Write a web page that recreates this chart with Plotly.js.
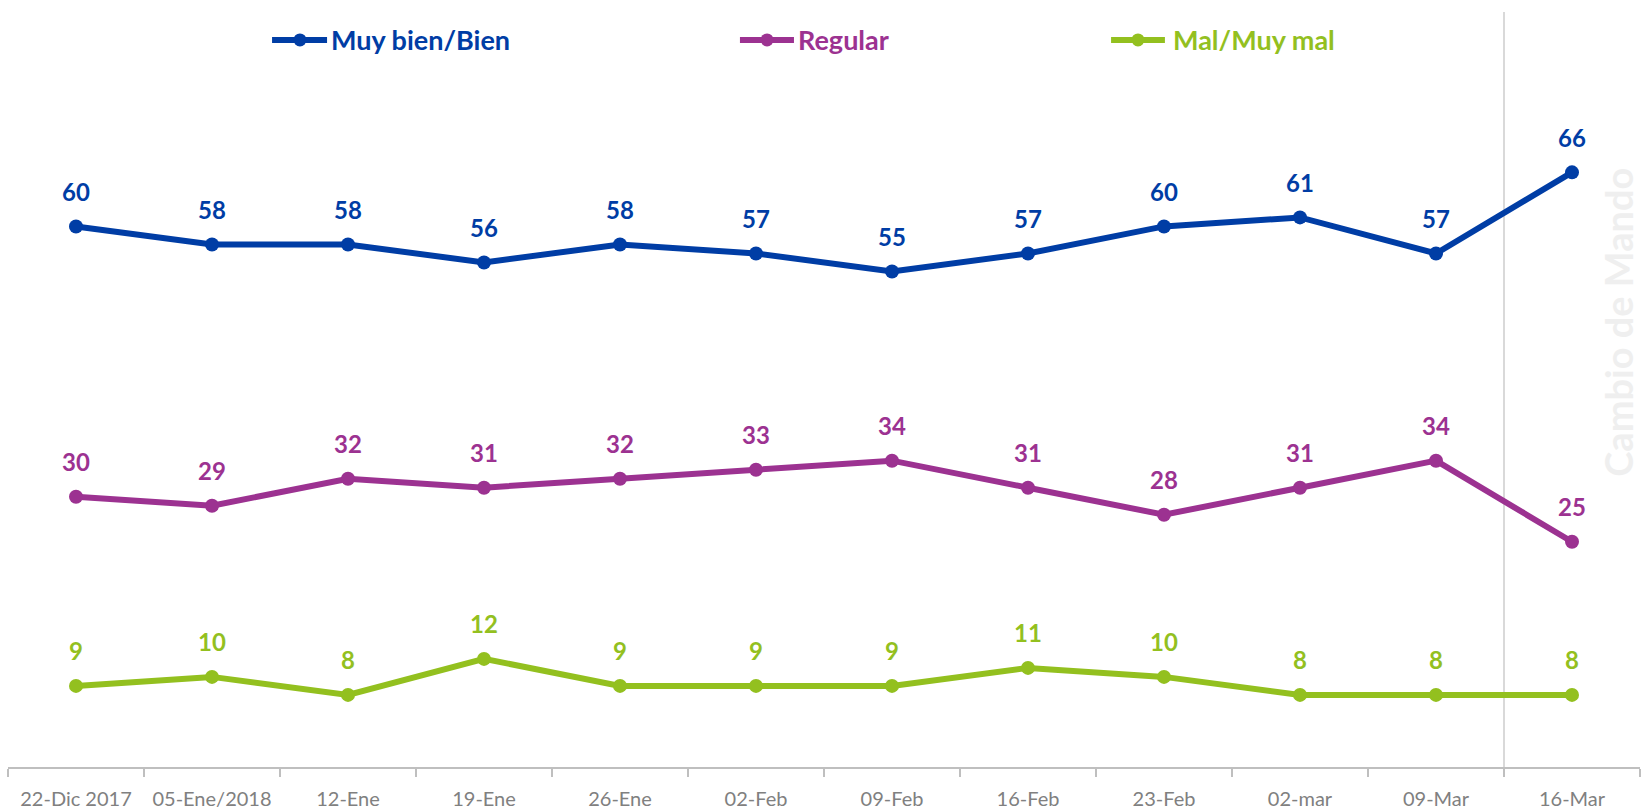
<!DOCTYPE html>
<html>
<head>
<meta charset="utf-8">
<script src="https://cdn.plot.ly/plotly-3.0.1.min.js"></script>
<style>html,body{margin:0;padding:0;background:#fff;}#chart{width:1643px;height:811px;}</style>
</head>
<body>
<div id="chart"></div>
<script>
const categories = ["22-Dic 2017","05-Ene/2018","12-Ene","19-Ene","26-Ene","02-Feb","09-Feb","16-Feb","23-Feb","02-mar","09-Mar","16-Mar"];
const seriesNames = ["Muy bien/Bien","Regular","Mal/Muy mal"];
const muyBien = [60,58,58,56,58,57,55,57,60,61,57,66];
const regular = [30,29,32,31,32,33,34,31,28,31,34,25];
const mal = [9,10,8,12,9,9,9,11,10,8,8,8];
const colors = ["#003DA5","#9C3291","#93C01F"];
const sideNote = "Cambio de Mando";

const FONT = "Lato, 'Open Sans', sans-serif";
const allSeries = [muyBien, regular, mal];

const traces = allSeries.map((vals,k)=>({
  type:"scatter", mode:"lines+markers", name:seriesNames[k],
  x:categories, y:vals,
  line:{color:colors[k], width:6},
  marker:{color:colors[k], size:14},
  showlegend:false, hoverinfo:"skip", cliponaxis:false
}));

const annotations = [];
allSeries.forEach((vals,k)=>{
  vals.forEach((v,i)=>{
    annotations.push({x:categories[i], y:v, xref:"x", yref:"y", text:"<b>"+v+"</b>", showarrow:false,
      yshift:35, font:{family:FONT, size:24, color:colors[k]}});
  });
});
annotations.push({xref:"paper", yref:"paper", x:0.9868, y:0.589, xanchor:"center", yanchor:"middle",
  text:"<b>"+sideNote+"</b>", textangle:-90, showarrow:false, font:{family:FONT, size:38, color:"#efefef"}});

// custom legend
const legY = 0.963;
const legPos = [[0.1618,0.1955,0.1789,0.1967],[0.4485,0.4816,0.4651,0.4829],[0.6759,0.7089,0.6924,0.7126]];
const shapes = [
  {type:"line", xref:"x", yref:"paper", x0:10.5, x1:10.5, y0:0, y1:1, line:{color:"#d9d9d9", width:2}, layer:"below"}
];
legPos.forEach((p,k)=>{
  shapes.push({type:"line", xref:"paper", yref:"paper", x0:p[0], x1:p[1], y0:legY, y1:legY, line:{color:colors[k], width:6}});
  shapes.push({type:"circle", xref:"paper", yref:"paper", xsizemode:"pixel", ysizemode:"pixel",
    xanchor:p[2], yanchor:legY, x0:-6.5, x1:6.5, y0:-6.5, y1:6.5, fillcolor:colors[k], line:{width:0}});
  annotations.push({xref:"paper", yref:"paper", x:p[3], y:legY, xanchor:"left", yanchor:"middle",
    text:"<b>"+seriesNames[k]+"</b>", showarrow:false, font:{family:FONT, size:27, color:colors[k]}});
});

const layout = {
  width:1643, height:811,
  margin:{l:8, r:3, t:12, b:44},
  paper_bgcolor:"#fff", plot_bgcolor:"#fff",
  xaxis:{
    type:"category", range:[-0.5,11.5],
    showgrid:false, zeroline:false, showline:true, linecolor:"#bfbfbf", linewidth:1.5,
    ticks:"outside", ticklen:8, tickcolor:"#bfbfbf", tickwidth:1.5, tickson:"boundaries",
    ticklabelstandoff:13,
    tickfont:{family:FONT, size:20, color:"#808080"}, fixedrange:true
  },
  yaxis:{range:[0,83.8], visible:false, showgrid:false, zeroline:false, fixedrange:true},
  shapes:shapes, annotations:annotations, showlegend:false
};

Plotly.newPlot("chart", traces, layout, {displayModeBar:false, staticPlot:true});
</script>
</body>
</html>
